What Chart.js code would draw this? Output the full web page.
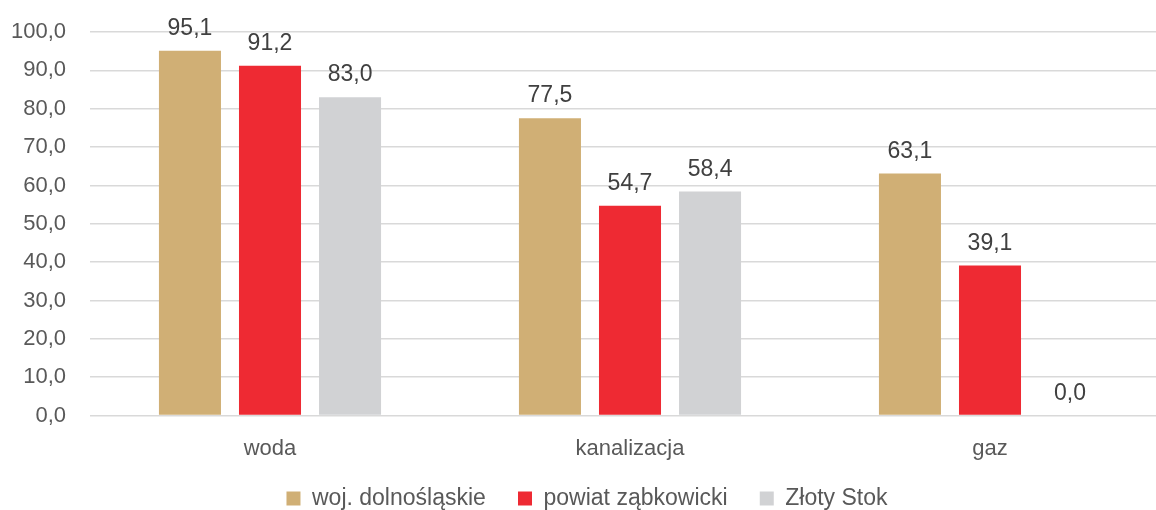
<!DOCTYPE html>
<html><head><meta charset="utf-8">
<script src="https://cdn.jsdelivr.net/npm/chart.js@4"></script>
<style>html,body{margin:0;padding:0;overflow:hidden;background:#fff;width:1156px;height:510px}
#wrap{width:1176px;height:520px;position:relative}</style>
</head><body><div id="wrap"><canvas id="c"></canvas></div>
<script>
const categories = ["woda", "kanalizacja", "gaz"];
const seriesNames = ["woj. dolnośląskie", "powiat ząbkowicki", "Złoty Stok"];
const wojValues = [95.1, 77.5, 63.1];
const powiatValues = [91.2, 54.7, 39.1];
const zlotyValues = [83.0, 58.4, 0.0];
const colors = ["#D0AF75", "#EE2A33", "#D1D2D4"];

const FONT = '"Liberation Sans", Arial, sans-serif';
const fmt = v => v.toFixed(1).replace('.', ',');
const GAP = '   ';

const labelPlugin = {
  id: 'valLabels',
  afterDatasetsDraw(chart) {
    const ctx = chart.ctx;
    ctx.save();
    ctx.font = '23px ' + FONT;
    ctx.fillStyle = '#404040';
    ctx.textAlign = 'center';
    ctx.textBaseline = 'alphabetic';
    chart.data.datasets.forEach((ds, i) => {
      const meta = chart.getDatasetMeta(i);
      meta.data.forEach((bar, j) => {
        ctx.fillText(fmt(ds.data[j]), bar.x, bar.y - 16);
      });
    });
    ctx.restore();
  }
};

new Chart(document.getElementById('c'), {
  type: 'bar',
  data: {
    labels: categories,
    datasets: [
      { label: seriesNames[0], data: wojValues, backgroundColor: colors[0] },
      { label: seriesNames[1], data: powiatValues, backgroundColor: colors[1] },
      { label: seriesNames[2], data: zlotyValues, backgroundColor: colors[2] }
    ]
  },
  options: {
    responsive: true,
    maintainAspectRatio: false,
    animation: false,
    categoryPercentage: 0.667,
    barPercentage: 0.775,
    layout: { padding: { top: 32, right: 6, left: 4, bottom: 0 } },
    scales: {
      x: {
        grid: { display: false },
        border: { display: false },
        ticks: { color: '#595959', font: { size: 22, family: FONT }, padding: 12 }
      },
      y: {
        min: 0, max: 100,
        grid: { color: '#D9D9D9', lineWidth: 1.5, drawTicks: false },
        border: { display: false },
        afterFit: s => { s.width = 86; s.paddingTop = 0; s.paddingBottom = 0; },
        ticks: { stepSize: 10, color: '#595959', padding: 24,
          font: { size: 22, family: FONT },
          callback: v => fmt(v) }
      }
    },
    plugins: {
      tooltip: { enabled: false },
      legend: {
        position: 'bottom',
        labels: { boxWidth: 14, boxHeight: 14, color: '#595959', padding: 13,
          font: { size: 23, family: FONT },
          generateLabels: chart => Chart.defaults.plugins.legend.labels.generateLabels(chart)
            .map((it, i, arr) => Object.assign(it, { text: i < arr.length - 1 ? it.text + GAP : it.text }))
        }
      }
    }
  },
  plugins: [labelPlugin]
});
</script></body></html>
